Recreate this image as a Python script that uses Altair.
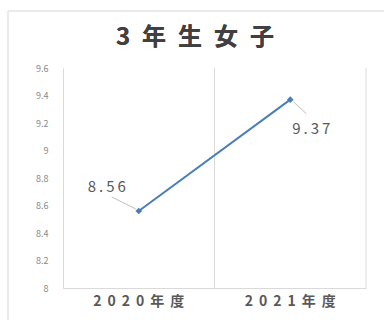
import altair as alt
import pandas as pd

years = ["2020年度", "2021年度"]
values = [8.56, 9.37]
y_ticks = [8.0, 8.2, 8.4, 8.6, 8.8, 9.0, 9.2, 9.4, 9.6]
title_text = "3\u2002年\u2002生\u2002女\u2002子"

df = pd.DataFrame({"year": years, "value": values})

FONT = "Noto Sans CJK JP"
LINE = "#4a7ebb"

x_enc = alt.X("year:N", sort=years,
              scale=alt.Scale(paddingInner=0, paddingOuter=0),
              axis=alt.Axis(title=None, domainColor="#d9d9d9", ticks=False,
                            labelPadding=6, labelFontSize=14, labelColor="#595959",
                            labelFont=FONT, labelFontWeight="bold", labelAngle=0,
                            labelAlign="center", labelBaseline="top",
                            labelFlush=False, labelOverlap=False,
                            labelExpr="join(split(datum.label, ''), '\u2009 ')",
                            grid=False))
y_enc = alt.Y("value:Q",
              scale=alt.Scale(domain=[8, 9.6], nice=False, zero=False),
              axis=alt.Axis(title=None, values=y_ticks, grid=False, ticks=False,
                            domainColor="#d9d9d9", labelPadding=15, labelOverlap=False,
                            labelFlush=False,
                            labelFontSize=9, labelColor="#8a8a8a", labelFont=FONT,
                            labelExpr="datum.value + ''"))

base = alt.Chart(df).transform_calculate(
    lab="join(split(format(datum.value, '.2f'), ''), '\u2009')")

grid = base.mark_rule(color="#d9d9d9", strokeWidth=1, xOffset=75.75).encode(
    x=x_enc, y=alt.value(0), y2=alt.value(220))

line = base.mark_line(color=LINE, strokeWidth=2).encode(x=x_enc, y=y_enc)
pts = base.mark_point(shape="diamond", filled=True, color=LINE, size=45, opacity=1).encode(
    x=x_enc, y=y_enc)

lead1 = base.transform_filter(alt.datum.year == years[0]).mark_rule(
    color="#bfbfbf", strokeWidth=1, xOffset=-3, yOffset=-2, x2Offset=-27, y2Offset=-14
).encode(x=x_enc, x2="year:N", y=y_enc, y2="value:Q")
lead2 = base.transform_filter(alt.datum.year == years[1]).mark_rule(
    color="#bfbfbf", strokeWidth=1, xOffset=3, yOffset=2, x2Offset=16, y2Offset=14
).encode(x=x_enc, x2="year:N", y=y_enc, y2="value:Q")

lab1 = base.transform_filter(alt.datum.year == years[0]).mark_text(
    font=FONT, fontSize=15, color="#595959", dx=-32, dy=-24
).encode(x=x_enc, y=y_enc, text="lab:N")
lab2 = base.transform_filter(alt.datum.year == years[1]).mark_text(
    font=FONT, fontSize=15, color="#595959", dx=21, dy=29
).encode(x=x_enc, y=y_enc, text="lab:N")

title = base.mark_text(font=FONT, fontSize=24, fontWeight="bold", color="#404040",
                       align="center", baseline="middle").encode(
    x=alt.value(132), y=alt.value(-30), text=alt.value(title_text))

frame_top = base.mark_rule(color="#e3e3e3", strokeWidth=1).encode(
    x=alt.value(-55), x2=alt.value(330), y=alt.value(-57), y2=alt.value(-57))
frame_left = base.mark_rule(color="#e3e3e3", strokeWidth=1).encode(
    x=alt.value(-55), x2=alt.value(-55), y=alt.value(-57), y2=alt.value(260))

chart = alt.layer(frame_top, frame_left, grid, lead1, lead2, line, pts, lab1, lab2, title).properties(
    width=303, height=220,
    background="white",
    autosize=alt.AutoSizeParams(type="none"),
    padding={"left": 63, "top": 68, "right": 18, "bottom": 32},
).configure_view(stroke="transparent", strokeWidth=0)

chart.save("out.html", embed_options={"renderer": "svg", "actions": False})
